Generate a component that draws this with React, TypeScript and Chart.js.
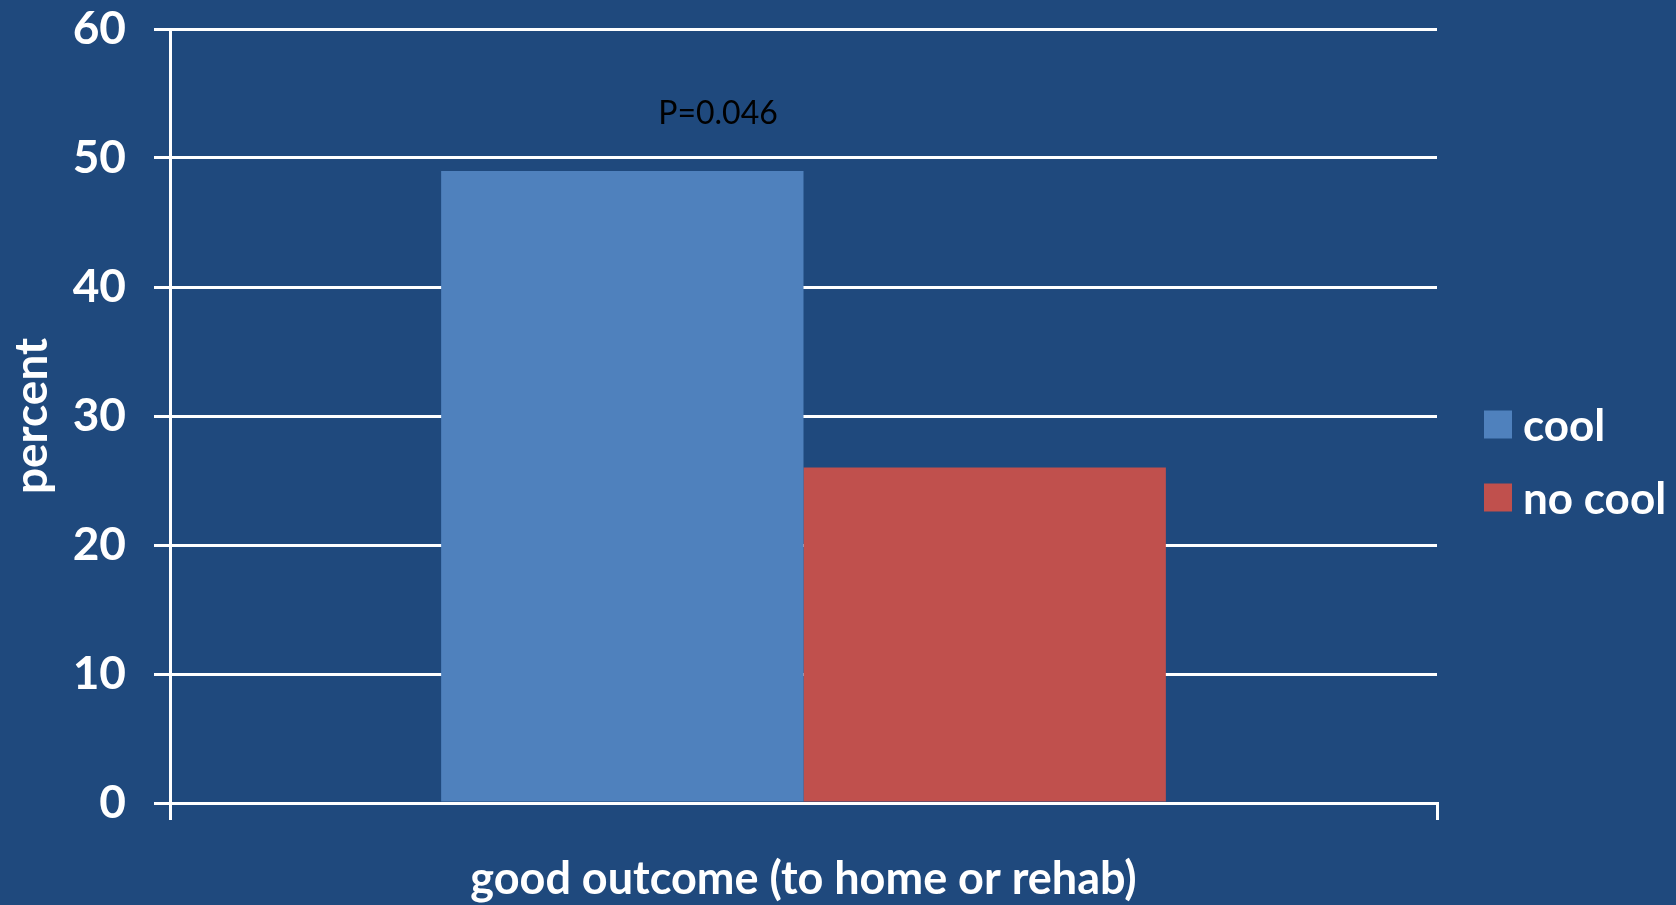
import React, { useEffect, useRef } from "react";
import { Chart, registerables } from "chart.js";

Chart.register(...registerables);

// ---- data ----
const categories = ["good outcome (to home or rehab)"];
const seriesNames = ["cool", "no cool"];
const coolValues = [49];
const noCoolValues = [26];
const seriesColors = ["#4F81BD", "#C0504D"];
const yMin = 0;
const yMax = 60;
const yStep = 10;
const yAxisTitle = "percent";
const pValueText = "P=0.046";
const pValueAt = { x: -0.0675, y: 53.4 }; // in axis units (category index, percent)

const FONT = "Lato, 'Open Sans', sans-serif";
const BG = "#1F497D";

const overlayPlugin = {
  id: "overlay",
  afterDraw(chart: any) {
    const { ctx, chartArea, scales } = chart;
    ctx.save();
    // p-value annotation
    ctx.font = `400 32px ${FONT}`;
    ctx.fillStyle = "#000000";
    ctx.textAlign = "center";
    ctx.textBaseline = "middle";
    ctx.fillText(
      pValueText,
      scales.x.getPixelForValue(pValueAt.x),
      scales.y.getPixelForValue(pValueAt.y)
    );
    // legend
    const mid = (chartArea.top + chartArea.bottom) / 2 + 45;
    const box = 28;
    ctx.font = `700 44px ${FONT}`;
    ctx.textAlign = "left";
    chart.data.datasets.forEach((ds: any, i: number) => {
      const cy = mid + (i - 0.5) * 73;
      ctx.fillStyle = ds.backgroundColor;
      ctx.fillRect(chartArea.right + 47, cy - box / 2, box, box);
      ctx.fillStyle = "#FFFFFF";
      ctx.fillText(ds.label, chartArea.right + 86, cy + 2);
    });
    ctx.restore();
  },
};

export default function App() {
  const ref = useRef<HTMLCanvasElement | null>(null);

  useEffect(() => {
    if (!ref.current) return;
    const chart = new Chart(ref.current, {
      type: "bar",
      data: {
        labels: categories,
        datasets: [
          { label: seriesNames[0], data: coolValues, backgroundColor: seriesColors[0] },
          { label: seriesNames[1], data: noCoolValues, backgroundColor: seriesColors[1] },
        ],
      },
      options: {
        animation: false,
        responsive: false,
        maintainAspectRatio: false,
        layout: { padding: { top: 29, right: 239, bottom: 0, left: 0 } },
        datasets: { bar: { barPercentage: 1, categoryPercentage: 0.572 } },
        plugins: { legend: { display: false }, tooltip: { enabled: false } },
        scales: {
          x: {
            afterFit: (s: any) => {
              s.height = 102;
              s.paddingLeft = 0;
              s.paddingRight = 0;
            },
            grid: {
              display: true,
              drawOnChartArea: false,
              drawTicks: true,
              tickLength: 17,
              color: "#FFFFFF",
              lineWidth: 3,
            },
            border: { display: true, color: "#FFFFFF", width: 3 },
            ticks: {
              color: "#FFFFFF",
              padding: 32,
              font: { family: FONT, size: 45, weight: "bold" },
            },
          },
          y: {
            min: yMin,
            max: yMax,
            afterFit: (s: any) => {
              s.width = 170;
              s.paddingTop = 0;
              s.paddingBottom = 0;
            },
            grid: {
              color: "#FFFFFF",
              lineWidth: 3,
              drawTicks: true,
              tickLength: 16,
            },
            border: { display: true, color: "#FFFFFF", width: 3 },
            ticks: {
              stepSize: yStep,
              color: "#FFFFFF",
              padding: 28,
              font: { family: FONT, size: 46, weight: "bold" },
            },
            title: {
              display: true,
              text: yAxisTitle,
              color: "#FFFFFF",
              padding: { top: 5, bottom: 0 },
              font: { family: FONT, size: 46, weight: "bold" },
            },
          },
        },
      },
      plugins: [overlayPlugin],
    } as any);
    return () => chart.destroy();
  }, []);

  return (
    <div
      style={{
        position: "fixed",
        left: 0,
        top: 0,
        width: 1676,
        height: 905,
        background: BG,
      }}
    >
      <canvas ref={ref} width={1676} height={905} style={{ display: "block" }} />
    </div>
  );
}
